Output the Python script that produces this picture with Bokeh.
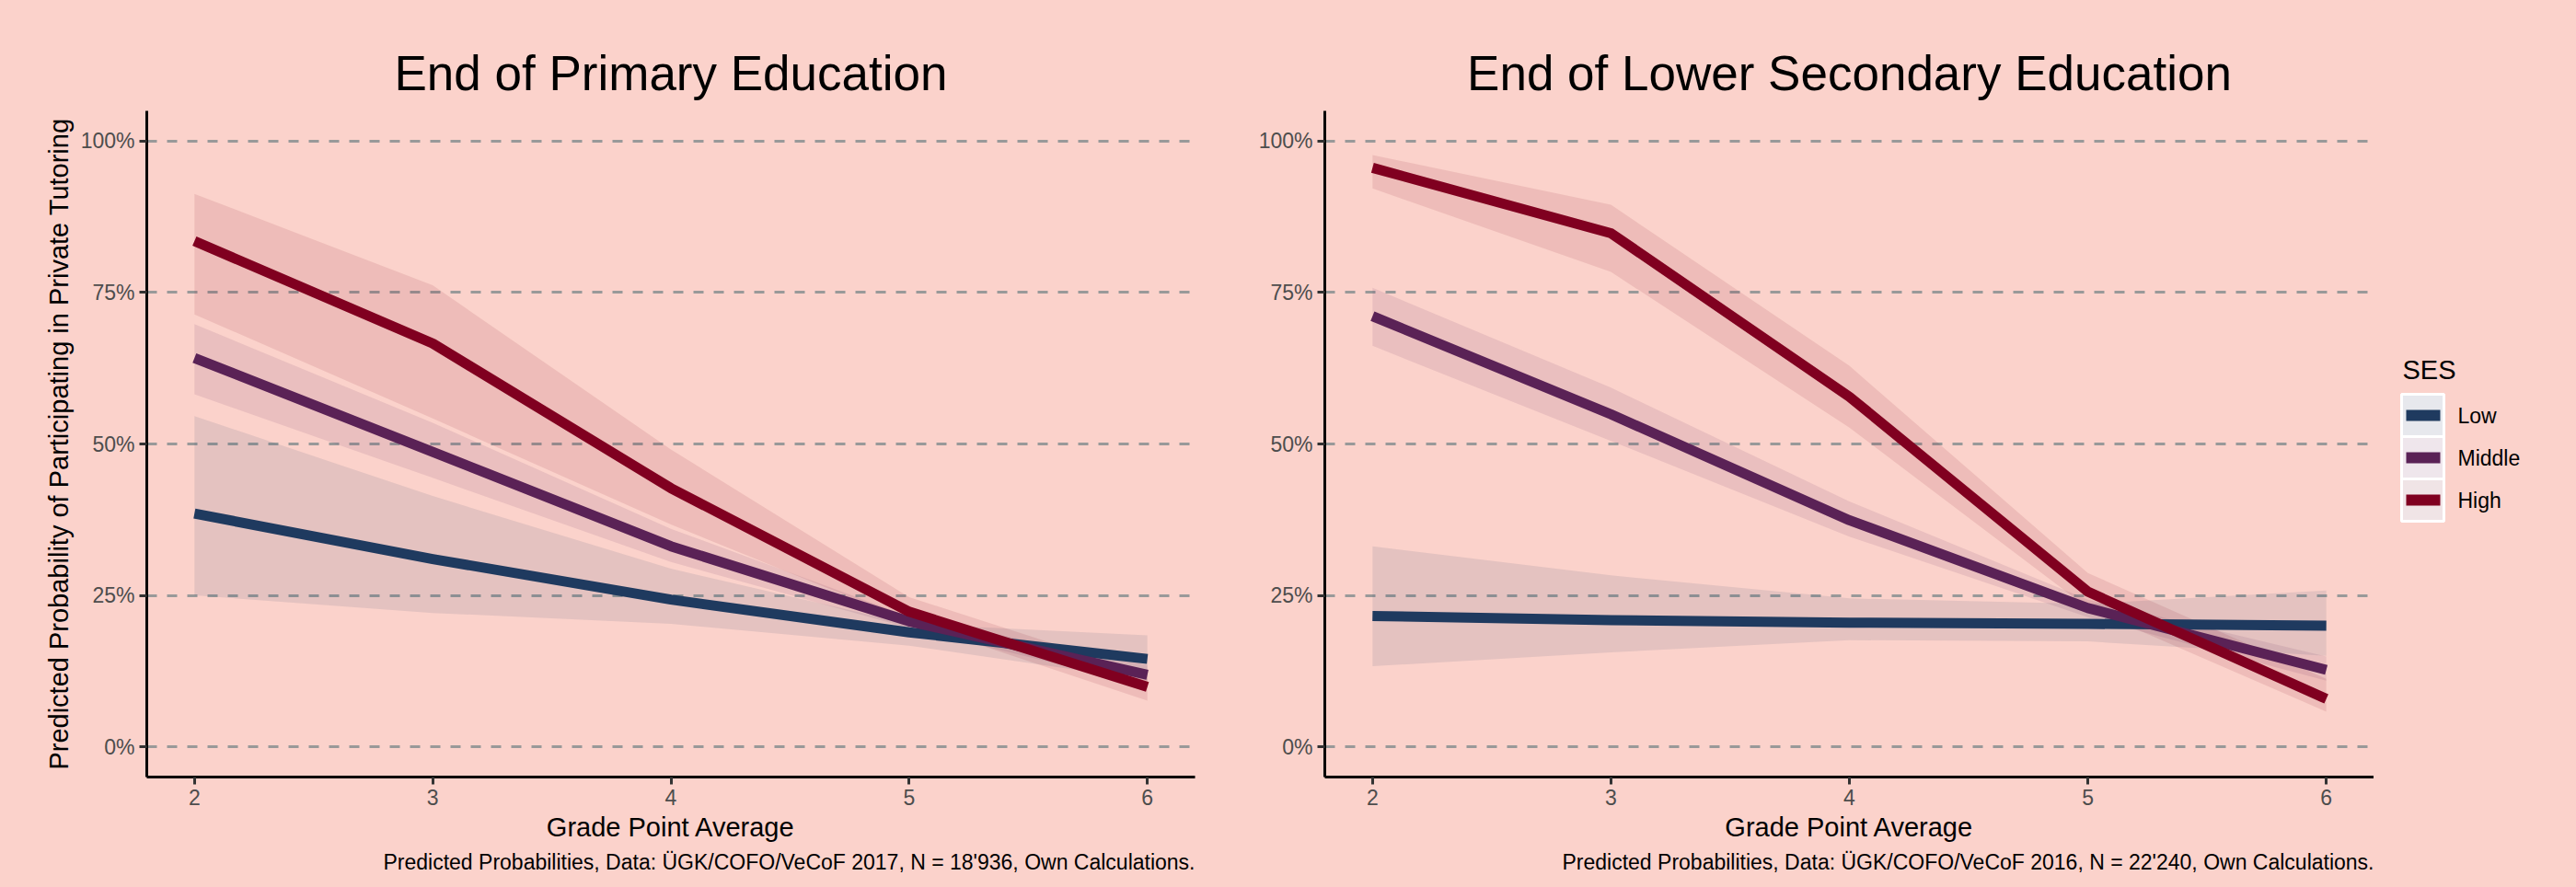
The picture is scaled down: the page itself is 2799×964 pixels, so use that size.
import numpy as np
from bokeh.plotting import figure
from bokeh.layouts import row
from bokeh.models import FixedTicker, NumeralTickFormatter, Title, ColumnDataSource
from bokeh.core.properties import value
from bokeh.embed import file_html
from bokeh.resources import INLINE

# ---------------- data ----------------
gpa = [2, 3, 4, 5, 6]
ses_levels = ["Low", "Middle", "High"]

# End of Primary Education
prim_low = [0.385, 0.310, 0.243, 0.189, 0.145]
prim_low_lo = [0.250, 0.221, 0.203, 0.167, 0.110]
prim_low_hi = [0.546, 0.414, 0.294, 0.203, 0.184]
prim_mid = [0.642, 0.487, 0.331, 0.207, 0.119]
prim_mid_lo = [0.582, 0.444, 0.305, 0.196, 0.101]
prim_mid_hi = [0.698, 0.535, 0.360, 0.215, 0.135]
prim_high = [0.835, 0.666, 0.427, 0.223, 0.099]
prim_high_lo = [0.714, 0.542, 0.367, 0.207, 0.076]
prim_high_hi = [0.913, 0.762, 0.491, 0.247, 0.120]

# End of Lower Secondary Education
sec_low = [0.216, 0.209, 0.205, 0.203, 0.200]
sec_low_lo = [0.133, 0.156, 0.176, 0.174, 0.150]
sec_low_hi = [0.331, 0.283, 0.245, 0.236, 0.258]
sec_mid = [0.711, 0.549, 0.374, 0.229, 0.127]
sec_mid_lo = [0.662, 0.505, 0.347, 0.214, 0.109]
sec_mid_hi = [0.758, 0.593, 0.405, 0.243, 0.149]
sec_high = [0.956, 0.848, 0.578, 0.256, 0.079]
sec_high_lo = [0.922, 0.784, 0.527, 0.229, 0.058]
sec_high_hi = [0.977, 0.895, 0.629, 0.287, 0.112]

y_ticks = [0, 0.25, 0.5, 0.75, 1.0]
x_ticks = [2, 3, 4, 5, 6]

titles = ["End of Primary Education", "End of Lower Secondary Education"]
captions = [
    "Predicted Probabilities, Data: \u00dcGK/COFO/VeCoF 2017, N = 18'936, Own Calculations.",
    "Predicted Probabilities, Data: \u00dcGK/COFO/VeCoF 2016, N = 22'240, Own Calculations.",
]
x_label = "Grade Point Average"
y_label = "Predicted Probability of Participating in Private Tutoring"
legend_title = "SES"

# ---------------- style ----------------
BG = "#fbd2cb"
FONT = "Liberation Sans"
COLORS = {"Low": "#1f3a5f", "Middle": "#5a2256", "High": "#800020"}
KEY_BG = {"Low": "#e7e8ed", "Middle": "#efe6ec", "High": "#f0e4e6"}

TOP, FRAME_H, BOTTOM = 120, 724, 112


def make_panel(title, caption, series, show_ylabel, border_left, border_right, frame_w):
    p = figure(
        frame_width=frame_w,
        frame_height=FRAME_H,
        x_range=(1.8, 6.2),
        y_range=(-0.05, 1.05),
        output_backend="svg",
        toolbar_location=None,
        min_border_left=border_left,
        min_border_right=border_right,
        min_border_top=TOP,
        min_border_bottom=BOTTOM,
        background_fill_color=BG,
        border_fill_color=BG,
        outline_line_color=None,
    )
    p.title.text = title
    p.title.align = "center"
    p.title.text_font = FONT
    p.title.text_font_size = "53px"
    p.title.text_font_style = "normal"
    p.title.text_color = "black"
    p.title.standoff = 24

    p.add_layout(
        Title(text=caption, align="right", text_font=FONT, text_font_size="23px",
              text_font_style="normal", text_color="black", standoff=8),
        "below",
    )

    p.xaxis.ticker = FixedTicker(ticks=x_ticks)
    p.yaxis.ticker = FixedTicker(ticks=y_ticks)
    p.yaxis.formatter = NumeralTickFormatter(format="0%")
    p.xaxis.axis_label = x_label
    if show_ylabel:
        p.yaxis.axis_label = y_label

    for ax in (p.xaxis[0], p.yaxis[0]):
        ax.axis_line_color = "black"
        ax.axis_line_width = 3
        ax.major_tick_line_color = "#333333"
        ax.major_tick_line_width = 3
        ax.major_tick_out = 8
        ax.major_tick_in = 0
        ax.minor_tick_line_color = None
        ax.major_label_text_font = FONT
        ax.major_label_text_font_size = "23px"
        ax.major_label_text_color = "#4d4d4d"
        ax.major_label_standoff = 5
        ax.axis_label_text_font = FONT
        ax.axis_label_text_font_size = "29px"
        ax.axis_label_text_font_style = "normal"
        ax.axis_label_text_color = "black"
        ax.axis_label_standoff = 5

    p.xgrid.grid_line_color = None
    p.ygrid.grid_line_color = "#999999"
    p.ygrid.grid_line_width = 2.8
    p.ygrid.grid_line_dash = "11 11"

    for name in ses_levels:
        mid, lo, hi = series[name]
        p.varea(x=gpa, y1=lo, y2=hi, fill_color=COLORS[name], fill_alpha=0.1)
    for name in ses_levels:
        mid, lo, hi = series[name]
        p.line(x=gpa, y=mid, line_color=COLORS[name], line_width=11,
               line_join="round", line_cap="butt")
    return p


prim_series = {
    "Low": (prim_low, prim_low_lo, prim_low_hi),
    "Middle": (prim_mid, prim_mid_lo, prim_mid_hi),
    "High": (prim_high, prim_high_lo, prim_high_hi),
}
sec_series = {
    "Low": (sec_low, sec_low_lo, sec_low_hi),
    "Middle": (sec_mid, sec_mid_lo, sec_mid_hi),
    "High": (sec_high, sec_high_lo, sec_high_hi),
}

p1 = make_panel(titles[0], captions[0], prim_series, True, 159, 60, 1139)
p2 = make_panel(titles[1], captions[1], sec_series, False, 81, 0, 1140)

# ---------------- legend panel (SES) ----------------
# The row aligns this panel's frame with the plot frames (top at y = TOP),
# so positions below are measured from that frame top.
LEG_W = 212
leg = figure(
    frame_width=LEG_W, frame_height=FRAME_H,
    x_range=(0, LEG_W), y_range=(FRAME_H, 0),
    x_axis_type=None, y_axis_type=None,
    output_backend="svg", toolbar_location=None, min_border=0,
    background_fill_color=BG, border_fill_color=BG, outline_line_color=None,
)
leg.grid.visible = False

key_left, key_size, key_top, line_inset = 30, 46, 308, 5
idx = np.arange(len(ses_levels))
key_src = ColumnDataSource(dict(
    left=[key_left] * len(ses_levels),
    right=[key_left + key_size] * len(ses_levels),
    top=key_top + idx * key_size,
    bottom=key_top + (idx + 1) * key_size,
    mid=key_top + (idx + 0.5) * key_size,
    x0=[key_left + line_inset] * len(ses_levels),
    x1=[key_left + key_size - line_inset + 1] * len(ses_levels),
    lx=[key_left + key_size + 15] * len(ses_levels),
    fill=[KEY_BG[s] for s in ses_levels],
    color=[COLORS[s] for s in ses_levels],
    label=ses_levels,
))
leg.quad(left="left", right="right", top="top", bottom="bottom", source=key_src,
         fill_color="fill", line_color="white", line_width=3)
leg.segment(x0="x0", x1="x1", y0="mid", y1="mid", source=key_src,
            line_color="color", line_width=12, line_cap="butt")
leg.text(x="lx", y="mid", text="label", source=key_src, text_font=value(FONT),
         text_font_size="23px", text_color="black", text_baseline="middle",
         text_align="left")
leg.text(x=[key_left + 1], y=[key_top - 27], text=[legend_title], text_font=value(FONT),
         text_font_size="29px", text_color="black", text_baseline="alphabetic",
         text_align="left")

layout = row(p1, p2, leg, spacing=0)
html = file_html(layout, INLINE, title="Private Tutoring")
html = html.replace("<head>", "<head><style>body{background:%s;}</style>" % BG, 1)
open("out.html", "w").write(html)
